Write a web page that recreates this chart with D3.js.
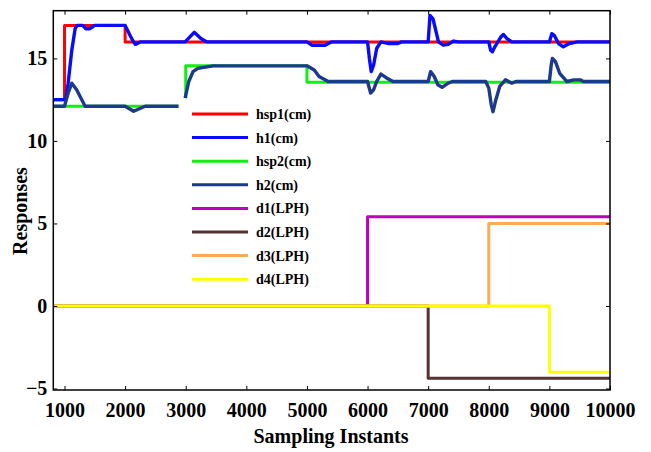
<!DOCTYPE html>
<html>
<head>
<meta charset="utf-8">
<script src="https://cdn.jsdelivr.net/npm/d3@7"></script>
<style>
  body { margin: 0; background: #fff; }
  svg text { font-family: "Liberation Serif", "Times New Roman", serif; font-weight: bold; }
</style>
</head>
<body>
<svg id="chart" width="651" height="452"></svg>
<script>
// x ticks / y ticks
const xTicks = [1000, 2000, 3000, 4000, 5000, 6000, 7000, 8000, 9000, 10000];
const yTicks = [-5, 0, 5, 10, 15];

// setpoints and disturbances (step after each x)
const hsp1X = [815, 1000, 2000, 10000];
const hsp1Y = [12.5, 17, 16, 16];
const hsp2X = [815, 2880, null, 3000, 3000, 5000, 5000, 10000];
const hsp2Y = [12.1, 12.1, null, 12.6, 14.55, 14.55, 13.55, 13.55];
const d1X = [815, 6000, 10000];
const d1Y = [0, 5.4, 5.4];
const d2X = [815, 7000, 10000];
const d2Y = [0, -4.38, -4.38];
const d3X = [815, 8000, 10000];
const d3Y = [0, 5.0, 5.0];
const d4X = [815, 9000, 10000];
const d4Y = [0, -4.02, -4.02];

// measured levels
const h1X = [815, 1020, 1060, 1120, 1175, 1210, 1300, 1350, 1420, 1500, 2000, 2080, 2130, 2170, 2250,
  2990, 3140, 3250, 3350, 5000, 5080, 5300, 5400, 6000, 6030, 6060, 6100, 6150, 6220, 6350, 6500, 6560,
  7000, 7030, 7080, 7170, 7250, 7330, 7420, 7500, 8000, 8030, 8060, 8100, 8200, 8240, 8300, 8380,
  9000, 9040, 9080, 9150, 9230, 9330, 9460, 10000];
const h1Y = [12.5, 12.5, 13.5, 15.5, 16.8, 17.0, 17.0, 16.8, 16.8, 17.0, 17.0, 16.4, 16.05, 15.85, 16.0,
  16.0, 16.58, 16.2, 16.0, 16.0, 15.8, 15.8, 16.0, 16.0, 15.0, 14.2, 14.6, 15.6, 16.0, 15.9, 15.9, 16.0,
  16.0, 17.6, 17.4, 16.0, 15.8, 15.85, 16.05, 16.0, 16.0, 15.5, 15.4, 15.7, 16.3, 16.45, 16.2, 16.0,
  16.0, 16.5, 16.4, 15.9, 15.7, 15.9, 16.0, 16.0];
const h2X = [815, 1000, 1060, 1120, 1200, 1340, 2000, 2140, 2330, 2880, null,
  2990, 3050, 3120, 3200, 3450, 5000, 5120, 5200, 5350, 6000, 6050, 6100, 6150, 6220, 6320, 6420,
  7000, 7040, 7100, 7160, 7230, 7330, 7400, 7950, 8000, 8040, 8070, 8110, 8180, 8275, 8380, 8450,
  9000, 9030, 9050, 9100, 9170, 9290, 9400, 9510, 9560, 10000];
const h2Y = [12.1, 12.1, 12.9, 13.5, 13.1, 12.1, 12.1, 11.8, 12.1, 12.1, null,
  12.6, 13.6, 14.2, 14.4, 14.55, 14.55, 14.3, 13.9, 13.6, 13.6, 12.9, 13.1, 13.6, 14.05, 13.8, 13.6,
  13.6, 14.2, 13.9, 13.4, 13.25, 13.5, 13.6, 13.6, 13.2, 12.2, 11.77, 12.4, 13.3, 13.7, 13.5, 13.6,
  13.6, 14.6, 15.0, 14.8, 14.1, 13.6, 13.7, 13.7, 13.6, 13.6];

const names = ['hsp1(cm)', 'h1(cm)', 'hsp2(cm)', 'h2(cm)', 'd1(LPH)', 'd2(LPH)', 'd3(LPH)', 'd4(LPH)'];
const colors = ['#ff0000', '#0a0aff', '#11ee11', '#1c3a8c', '#c000c0', '#553333', '#ffaa55', '#ffff00'];

const svg = d3.select('#chart');
const x = d3.scaleLinear().domain([815, 10000]).range([53.3, 610]);
const y = d3.scaleLinear().domain([-5.09, 17.89]).range([390, 10.7]);

const zip = (xs, ys) => xs.map((v, i) => [v, ys[i]]);
const stepLine = d3.line().defined(d => d[0] != null).x(d => x(d[0])).y(d => y(d[1])).curve(d3.curveStepAfter);
const plainLine = d3.line().defined(d => d[0] != null).x(d => x(d[0])).y(d => y(d[1]));

const series = [
  { pts: zip(hsp1X, hsp1Y), gen: stepLine },
  { pts: zip(h1X, h1Y), gen: plainLine },
  { pts: zip(hsp2X, hsp2Y), gen: plainLine },
  { pts: zip(h2X, h2Y), gen: plainLine },
  { pts: zip(d1X, d1Y), gen: stepLine },
  { pts: zip(d2X, d2Y), gen: stepLine },
  { pts: zip(d3X, d3Y), gen: stepLine },
  { pts: zip(d4X, d4Y), gen: stepLine }
];

series.forEach((s, i) => {
  svg.append('path')
    .attr('d', s.gen(s.pts))
    .attr('fill', 'none')
    .attr('stroke', colors[i])
    .attr('stroke-width', i == 1 || i == 3 ? 3.4 : 3)
    .attr('stroke-linejoin', 'round');
});

// axes (ticks inside the box)
const fmt = d3.format('d');
svg.append('g').attr('transform', 'translate(0,390)')
  .call(d3.axisBottom(x).tickValues(xTicks).tickFormat(fmt).tickSize(-4).tickSizeOuter(0).tickPadding(13))
  .call(g => g.select('.domain').remove());
svg.append('g').attr('transform', 'translate(0,10.7)')
  .call(d3.axisTop(x).tickValues(xTicks).tickFormat('').tickSize(-4).tickSizeOuter(0))
  .call(g => g.select('.domain').remove());
svg.append('g').attr('transform', 'translate(53.3,0)')
  .call(d3.axisLeft(y).tickValues(yTicks).tickFormat(fmt).tickSize(-4).tickSizeOuter(0).tickPadding(6))
  .call(g => g.select('.domain').remove());
svg.append('g').attr('transform', 'translate(610,0)')
  .call(d3.axisRight(y).tickValues(yTicks).tickFormat('').tickSize(-4).tickSizeOuter(0))
  .call(g => g.select('.domain').remove());

svg.selectAll('.tick text').attr('font-size', 20).attr('fill', '#000');
svg.selectAll('.tick line').attr('stroke', '#000');

svg.append('rect')
  .attr('x', 53.3).attr('y', 10.7)
  .attr('width', 610 - 53.3).attr('height', 390 - 10.7)
  .attr('fill', 'none').attr('stroke', '#000').attr('stroke-width', 1.5);

// legend
const leg = svg.append('g');
names.forEach((n, i) => {
  const ly = 114 + i * 23.6;
  leg.append('line').attr('x1', 192).attr('x2', 248).attr('y1', ly).attr('y2', ly)
    .attr('stroke', colors[i]).attr('stroke-width', 3);
  leg.append('text').attr('x', 256).attr('y', ly + 5).attr('font-size', 14).text(n);
});

// titles
svg.append('text').attr('x', 331).attr('y', 443).attr('text-anchor', 'middle')
  .attr('font-size', 20).text('Sampling Instants');
svg.append('text').attr('transform', 'translate(27,211) rotate(-90)').attr('text-anchor', 'middle')
  .attr('font-size', 20).text('Responses');
</script>
</body>
</html>
